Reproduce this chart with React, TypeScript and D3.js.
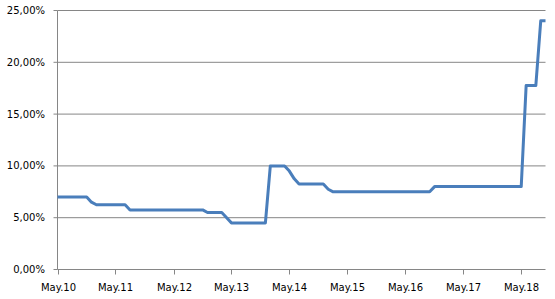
import React from "react";
import * as d3 from "d3";

// Monthly one-week repo rate (%), May 2010 .. Oct 2018
const startMonth = "2010-05";
const rates2010 = [7.0, 7.0, 7.0, 7.0, 7.0, 7.0, 7.0, 6.5]; // May..Dec
const rates2011 = [6.25, 6.25, 6.25, 6.25, 6.25, 6.25, 6.25, 5.75, 5.75, 5.75, 5.75, 5.75];
const rates2012 = [5.75, 5.75, 5.75, 5.75, 5.75, 5.75, 5.75, 5.75, 5.75, 5.75, 5.75, 5.5];
const rates2013 = [5.5, 5.5, 5.5, 5.0, 4.5, 4.5, 4.5, 4.5, 4.5, 4.5, 4.5, 4.5];
const rates2014 = [10.0, 10.0, 10.0, 10.0, 9.5, 8.75, 8.25, 8.25, 8.25, 8.25, 8.25, 8.25];
const rates2015 = [7.75, 7.5, 7.5, 7.5, 7.5, 7.5, 7.5, 7.5, 7.5, 7.5, 7.5, 7.5];
const rates2016 = [7.5, 7.5, 7.5, 7.5, 7.5, 7.5, 7.5, 7.5, 7.5, 7.5, 8.0, 8.0];
const rates2017 = [8.0, 8.0, 8.0, 8.0, 8.0, 8.0, 8.0, 8.0, 8.0, 8.0, 8.0, 8.0];
const rates2018 = [8.0, 8.0, 8.0, 8.0, 8.0, 17.75, 17.75, 17.75, 24.0, 24.0]; // Jan..Oct

const yTicks = [0, 5, 10, 15, 20, 25];
const xTickYears = [2010, 2011, 2012, 2013, 2014, 2015, 2016, 2017, 2018];

const W = 555;
const H = 299;
const LEFT = 57.5;
const RIGHT = 545.5;
const TOP = 10.5;
const BOTTOM = 269.5;

const LINE = "#4a7ebb";
const GRID = "#868686";

const locale = d3.formatLocale({
  decimal: ",",
  thousands: ".",
  grouping: [3],
  currency: ["", ""],
});
const fmtPct = (v: number) => locale.format(".2f")(v) + "%";
const fmtMonth = d3.timeFormat("%b.%y");

export default function App() {
  const values = [
    ...rates2010,
    ...rates2011,
    ...rates2012,
    ...rates2013,
    ...rates2014,
    ...rates2015,
    ...rates2016,
    ...rates2017,
    ...rates2018,
  ];
  const start = d3.timeParse("%Y-%m")(startMonth) as Date;
  const data = values.map((v, i) => ({ date: d3.timeMonth.offset(start, i), v }));

  const x = d3
    .scaleTime()
    .domain([data[0].date, data[data.length - 1].date])
    .range([LEFT, RIGHT]);
  const y = d3.scaleLinear().domain([0, 25]).range([BOTTOM, TOP]);

  const line = d3
    .line<{ date: Date; v: number }>()
    .x((d) => x(d.date))
    .y((d) => y(d.v));

  const xTicks = xTickYears.map((yr) => new Date(yr, 4, 1));

  return (
    <svg
      width={W}
      height={H}
      style={{ position: "absolute", left: 0, top: 0, background: "#fff" }}
      fontFamily="'DejaVu Sans', Verdana, sans-serif"
      fontSize={10}
    >
      {/* gridlines */}
      {yTicks.map((t) => (
        <g key={t}>
          {t > 0 && (
            <line x1={LEFT} x2={RIGHT} y1={y(t)} y2={y(t)} stroke={GRID} strokeWidth={1} />
          )}
          <line x1={LEFT - 4} x2={LEFT} y1={y(t)} y2={y(t)} stroke={GRID} strokeWidth={1} />
          <text x={45} y={y(t)} dy="0.35em" textAnchor="end" fill="#000">
            {fmtPct(t)}
          </text>
        </g>
      ))}
      {/* axes */}
      <line x1={LEFT} x2={LEFT} y1={TOP} y2={BOTTOM} stroke={GRID} strokeWidth={1} />
      <line x1={LEFT} x2={RIGHT} y1={BOTTOM} y2={BOTTOM} stroke={GRID} strokeWidth={1} />
      {xTicks.map((d) => {
        const px = Math.round(x(d)) + 0.5;
        return (
          <g key={d.toISOString()}>
            <line x1={px} x2={px} y1={BOTTOM} y2={BOTTOM + 5} stroke={GRID} strokeWidth={1} />
            <text x={px} y={291} textAnchor="middle" fill="#000">
              {fmtMonth(d)}
            </text>
          </g>
        );
      })}
      {/* series */}
      <path
        d={line(data) || ""}
        fill="none"
        stroke={LINE}
        strokeWidth={3}
        strokeLinejoin="round"
      />
    </svg>
  );
}
